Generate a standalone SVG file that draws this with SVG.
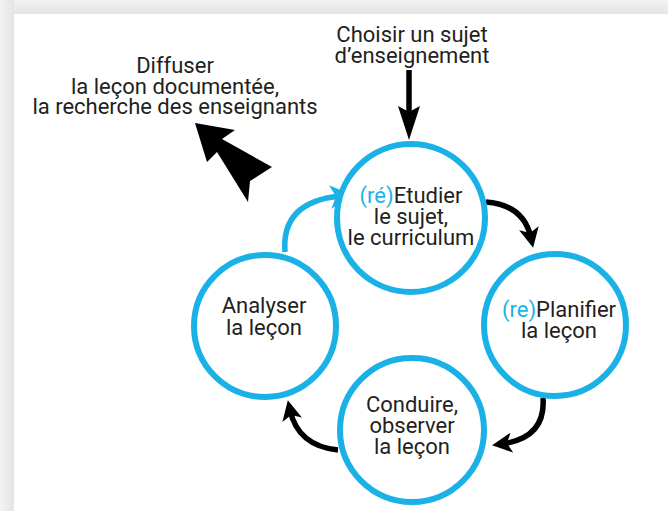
<svg xmlns="http://www.w3.org/2000/svg" width="668" height="511" viewBox="0 0 668 511">
  <defs>
    <linearGradient id="gTop" x1="0" y1="0" x2="0" y2="1">
      <stop offset="0" stop-color="#f3f3f3"/>
      <stop offset="1" stop-color="#e4e4e4"/>
    </linearGradient>
    <linearGradient id="gLeft" x1="0" y1="0" x2="1" y2="0">
      <stop offset="0" stop-color="#f3f3f3"/>
      <stop offset="1" stop-color="#e4e4e4"/>
    </linearGradient>
    <marker id="headK" viewBox="0 0 20 20" markerUnits="userSpaceOnUse" markerWidth="20" markerHeight="20" refX="10" refY="10" orient="auto">
      <path d="M0,0 L20,10 L0,20 L5,10 z" fill="#000"/>
    </marker>
    <marker id="headC" viewBox="0 0 22 24" markerUnits="userSpaceOnUse" markerWidth="22" markerHeight="24" refX="10" refY="12" orient="auto">
      <path d="M0,0 L22,12 L0,24 L6,12 z" fill="#1ab2e6"/>
    </marker>
    <marker id="headBig" viewBox="0 0 34 22" markerUnits="userSpaceOnUse" markerWidth="34" markerHeight="22" refX="20" refY="11" orient="auto">
      <path d="M0,0 L34,11 L0,22 L6,11 z" fill="#000"/>
    </marker>
  </defs>
  <style>
    .node { fill: #fff; stroke: #1ab2e6; stroke-width: 6; }
    .lbl { font-family: "Roboto", "Liberation Sans", sans-serif; font-size: 22px; fill: #231f20; text-anchor: middle; }
    .hl { fill: #1ab2e6; }
    .conK { fill: none; stroke: #000; stroke-width: 5.5; }
    .conC { fill: none; stroke: #1ab2e6; stroke-width: 5.5; }
  </style>

  <rect x="0" y="0" width="668" height="511" fill="#fff"/>
  <rect x="0" y="0" width="668" height="14" fill="url(#gTop)"/>
  <rect x="0" y="0" width="14" height="511" fill="url(#gLeft)"/>

  <g id="connectors">
    <path class="conK" d="M409,70 L409,126" marker-end="url(#headBig)"/>
    <path class="conK" d="M486,202 Q524,205 531,238" marker-end="url(#headK)"/>
    <path class="conK" d="M543,398 Q546,438 502,444" marker-end="url(#headK)"/>
    <path class="conK" d="M338,450 Q298,446 290,410" marker-end="url(#headK)"/>
    <path class="conC" d="M285,252 Q281,202 340,196" marker-end="url(#headC)"/>
    <polygon points="195,123 235,130 222,139 272,167 250,181 248,202 217,152 207,162" fill="#000"/>
  </g>

  <g id="text-choisir">
    <text class="lbl" x="412" y="42">Choisir un sujet</text>
    <text class="lbl" x="412" y="63">d’enseignement</text>
  </g>

  <g id="text-diffuser">
    <text class="lbl" x="175" y="73">Diffuser</text>
    <text class="lbl" x="175" y="94">la leçon documentée,</text>
    <text class="lbl" x="175" y="114">la recherche des enseignants</text>
  </g>

  <g id="node-etudier">
    <circle class="node" cx="411" cy="218" r="74"/>
    <text class="lbl" x="411" y="203"><tspan class="hl">(ré)</tspan>Etudier</text>
    <text class="lbl" x="411" y="224">le sujet,</text>
    <text class="lbl" x="411" y="245">le curriculum</text>
  </g>

  <g id="node-planifier">
    <circle class="node" cx="555" cy="325" r="71"/>
    <text class="lbl" x="559" y="317"><tspan class="hl">(re)</tspan>Planifier</text>
    <text class="lbl" x="559" y="338">la leçon</text>
  </g>

  <g id="node-conduire">
    <circle class="node" cx="412" cy="430" r="72"/>
    <text class="lbl" x="412" y="412">Conduire,</text>
    <text class="lbl" x="412" y="433">observer</text>
    <text class="lbl" x="412" y="454">la leçon</text>
  </g>

  <g id="node-analyser">
    <circle class="node" cx="265" cy="326" r="71"/>
    <text class="lbl" x="264" y="313">Analyser</text>
    <text class="lbl" x="264" y="335">la leçon</text>
  </g>
</svg>
